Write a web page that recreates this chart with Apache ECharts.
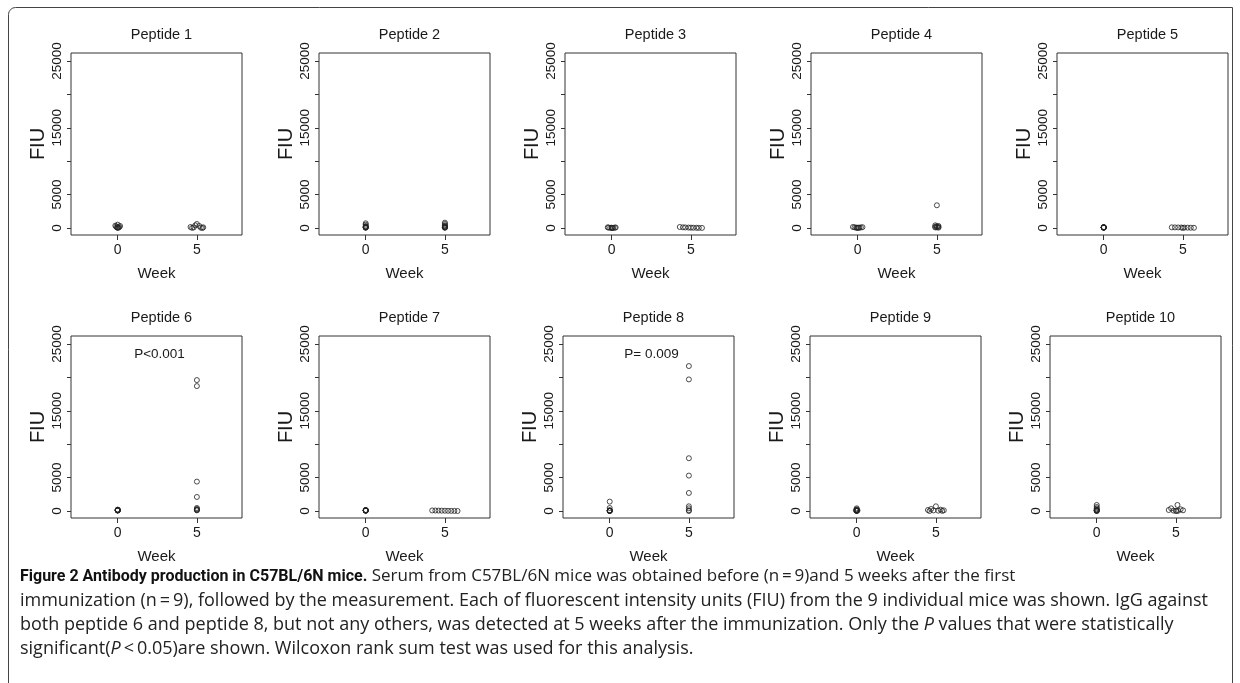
<!DOCTYPE html>
<html>
<head>
<meta charset="utf-8">
<script src="https://cdn.jsdelivr.net/npm/echarts@6/dist/echarts.min.js"></script>
<style>
  html, body { margin: 0; padding: 0; background: #fff; }
  #chart { width: 1240px; height: 683px; }
</style>
</head>
<body>
<div id="chart"></div>
<script>
// values
const peptides = ['Peptide 1', 'Peptide 2', 'Peptide 3', 'Peptide 4', 'Peptide 5',
  'Peptide 6', 'Peptide 7', 'Peptide 8', 'Peptide 9', 'Peptide 10'];
const weeks = [0, 5];
const yTicks = [0, 5000, 10000, 15000, 20000, 25000];
const yTickLabels = [0, 5000, 15000, 25000];
const pValues = ['', '', '', '', '', 'P<0.001', '', 'P= 0.009', '', ''];

// FIU of the 9 mice, before (week 0) and 5 weeks after immunization
const fiuWeek0 = [
  [500, 350, 300, 200, 150, 100, 80, 50, 20],
  [700, 500, 300, 200, 150, 100, 100, 50, 50],
  [100, 80, 60, 50, 40, 30, 20, 10, 0],
  [150, 120, 100, 80, 60, 50, 40, 30, 20],
  [120, 110, 100, 90, 80, 70, 60, 50, 40],
  [200, 180, 150, 130, 120, 100, 90, 80, 60],
  [150, 120, 100, 90, 80, 70, 60, 50, 40],
  [1400, 450, 100, 80, 50, 30, 20, 10, 0],
  [400, 250, 150, 100, 80, 60, 40, 20, 0],
  [900, 600, 400, 250, 150, 100, 50, 20, 0],
];
const fiuWeek5 = [
  [600, 400, 300, 150, 100, 80, 50, 20, 0],
  [800, 600, 400, 300, 200, 150, 100, 50, 50],
  [150, 100, 80, 60, 50, 40, 30, 20, 10],
  [3400, 400, 300, 250, 200, 150, 100, 80, 50],
  [100, 90, 80, 70, 60, 50, 40, 30, 20],
  [19600, 18700, 4400, 2100, 450, 300, 200, 150, 100],
  [80, 70, 60, 50, 40, 30, 20, 10, 0],
  [21700, 19700, 7900, 5300, 2700, 700, 400, 100, 0],
  [700, 300, 200, 150, 100, 80, 50, 20, 0],
  [900, 400, 250, 150, 100, 60, 40, 20, 0],
];
// horizontal jitter of each point (week units)
const jitterWeek0 = [
  [0, -0.15, 0.15, -0.1, 0.1, 0, -0.05, 0.05, 0],
  [0, 0, 0, 0, 0, 0, 0, 0, 0],
  [-0.25, 0.25, -0.2, 0.2, 0, -0.1, 0.1, 0, 0.05],
  [-0.3, 0.3, -0.2, 0.2, -0.1, 0.1, 0, 0.05, -0.05],
  [0, 0, 0, 0, 0, 0, 0, 0, 0],
  [0, 0, 0, 0, 0, 0, 0, 0, 0],
  [0, 0, 0, 0, 0, 0, 0, 0, 0],
  [0, 0, 0, 0, 0, 0, 0, 0, 0],
  [0, 0, 0, -0.05, 0.05, 0, 0, 0, 0],
  [0, 0, 0, 0, 0, 0, 0, 0, 0],
];
const jitterWeek5 = [
  [0, -0.1, 0.15, -0.4, 0.4, -0.2, 0.25, -0.3, 0.35],
  [0, 0, 0, 0, 0, 0, 0, 0, 0],
  [-0.7, -0.5, -0.35, -0.15, 0, 0.15, 0.35, 0.5, 0.7],
  [0, -0.1, 0.1, 0, -0.1, 0.1, 0, -0.1, 0.1],
  [-0.7, -0.5, -0.3, -0.1, 0.1, 0.3, 0.5, 0.7, 0],
  [0, 0, 0, 0, 0, 0, 0, 0, 0],
  [-0.8, -0.6, -0.4, -0.2, 0, 0.2, 0.4, 0.6, 0.8],
  [0, 0, 0, 0, 0, 0, 0, 0, 0],
  [0, -0.3, 0.3, -0.5, 0.5, -0.15, 0.15, 0.4, -0.4],
  [0.1, -0.3, 0.3, -0.45, 0.45, -0.15, 0.15, 0, 0.05],
];

// panel layout (px)
const colLeft = [[71, 319, 565, 811, 1057], [71, 319, 563, 810, 1050]];
const rowTop = [53, 336];
const boxW = 171, boxH = 182;

const font = 'Liberation Sans, Arial, sans-serif';
const ink = '#1a1a1a';

const chart = echarts.init(document.getElementById('chart'));

const grids = [], xAxes = [], yAxes = [], series = [], titles = [];
peptides.forEach((name, i) => {
  const r = Math.floor(i / 5), c = i % 5;
  const left = colLeft[r][c], top = rowTop[r];
  grids.push({
    left: left, top: top, width: boxW, height: boxH,
    show: true, borderColor: '#333', borderWidth: 1, backgroundColor: 'transparent',
  });
  xAxes.push({
    gridIndex: i, type: 'value', min: -2.95, max: 7.85,
    name: 'Week', nameLocation: 'middle', nameGap: 31,
    nameTextStyle: { fontFamily: font, fontSize: 15, color: ink },
    axisLine: { show: false, onZero: false },
    splitLine: { show: false },
    axisTick: { show: true, length: 5, customValues: weeks, lineStyle: { color: '#333' } },
    axisLabel: {
      customValues: weeks, margin: 8, fontFamily: font, fontSize: 14, color: ink,
      formatter: v => String(v),
    },
  });
  yAxes.push({
    gridIndex: i, type: 'value', min: -1050, max: 26200,
    name: 'FIU', nameLocation: 'middle', nameGap: 23, nameRotate: 90,
    nameTextStyle: { fontFamily: font, fontSize: 20, color: ink },
    axisLine: { show: false, onZero: false },
    splitLine: { show: false },
    axisTick: { show: true, length: 4, customValues: yTicks, lineStyle: { color: '#333' } },
    axisLabel: {
      customValues: yTickLabels, rotate: 90, margin: 7,
      fontFamily: font, fontSize: 13.5, color: ink,
      formatter: v => String(v),
    },
  });
  const pts = [];
  fiuWeek0[i].forEach((v, k) => pts.push([weeks[0] + jitterWeek0[i][k], v]));
  fiuWeek5[i].forEach((v, k) => pts.push([weeks[1] + jitterWeek5[i][k], v]));
  series.push({
    type: 'scatter', xAxisIndex: i, yAxisIndex: i, data: pts,
    symbol: 'circle', symbolSize: 5, silent: true,
    itemStyle: { color: 'transparent', borderColor: '#222', borderWidth: 1 },
  });
  titles.push({
    text: name, left: left + boxW / 2, top: top - 31, textAlign: 'center',
    textStyle: { fontFamily: font, fontSize: 14.5, fontWeight: 'normal', color: ink },
  });
  if (pValues[i]) {
    titles.push({
      text: pValues[i], left: left + boxW / 2 - 2, top: top + 6, textAlign: 'center',
      textStyle: { fontFamily: font, fontSize: 13.5, fontWeight: 'normal', color: ink },
    });
  }
});

const capFont = '"Open Sans", "Noto Sans", sans-serif';
const boldFont = 'Roboto, "Open Sans", sans-serif';
const captionLines = [
  '{b|Figure 2 Antibody production in C57BL/6N mice.}{r| Serum from C57BL/6N mice was obtained before (n\u2009=\u20099)and 5 weeks after the first}',
  'immunization (n\u2009=\u20099), followed by the measurement. Each of fluorescent intensity units (FIU) from the 9 individual mice was shown. IgG against',
  'both peptide 6 and peptide 8, but not any others, was detected at 5 weeks after the immunization. Only the {i|P} values that were statistically',
  'significant({i|P}\u2009<\u20090.05)are shown. Wilcoxon rank sum test was used for this analysis.',
];

const graphics = [{
  type: 'rect', silent: true,
  shape: { x: 8.5, y: 7.5, width: 1224, height: 700, r: [7, 0, 0, 0] },
  style: { fill: 'none', stroke: '#444', lineWidth: 1 },
}];
captionLines.forEach((line, k) => {
  graphics.push({
    type: 'text', left: 20, top: 568 + k * 24, silent: true,
    style: {
      text: line, font: '18px ' + capFont, fill: '#222',
      rich: {
        b: { fontFamily: boldFont, fontSize: 16, fontWeight: 'bold', fill: '#111' },
        r: { fontFamily: capFont, fontSize: 17, fill: '#222' },
        i: { fontFamily: capFont, fontSize: 18, fontStyle: 'italic', fill: '#222' },
      },
    },
  });
});

chart.setOption({
  backgroundColor: '#fff',
  animation: false,
  title: titles,
  grid: grids,
  xAxis: xAxes,
  yAxis: yAxes,
  series: series,
  graphic: graphics,
});
</script>
</body>
</html>
